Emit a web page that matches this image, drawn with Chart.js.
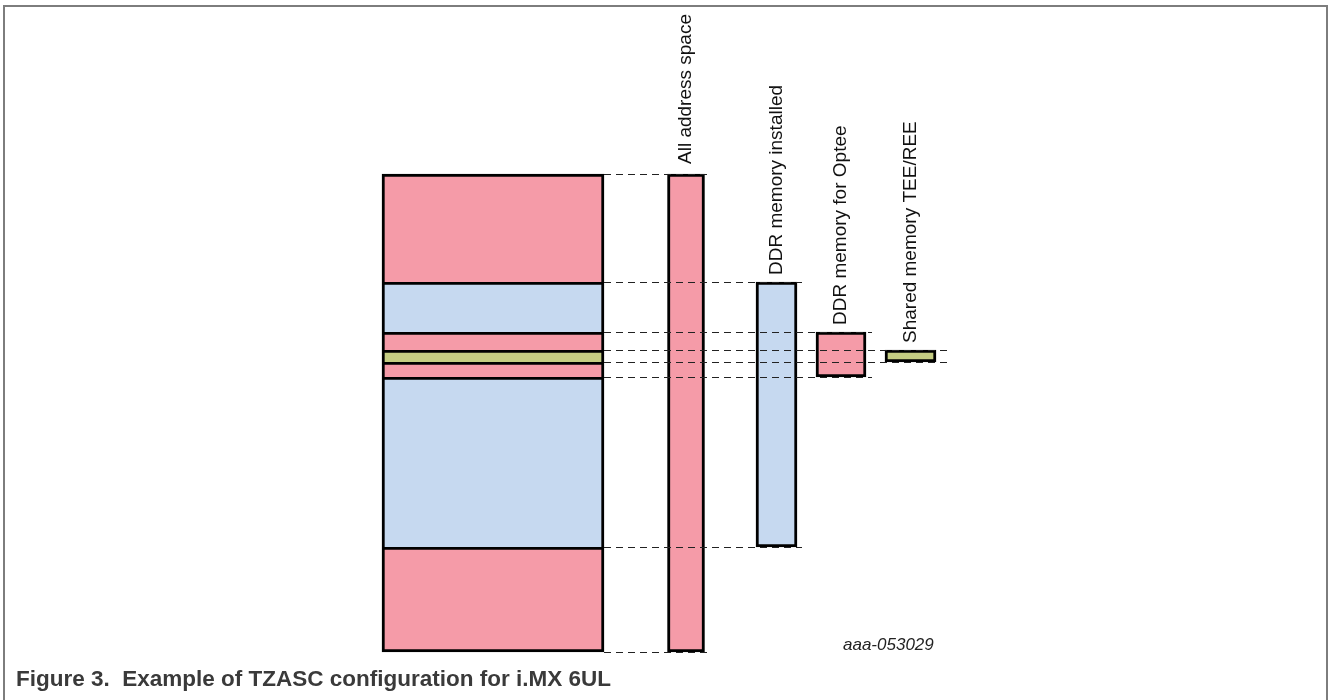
<!DOCTYPE html>
<html>
<head>
<meta charset="utf-8">
<title>TZASC configuration for i.MX 6UL</title>
<script src="https://cdn.jsdelivr.net/npm/chart.js@4.4.1/dist/chart.umd.min.js"></script>
<style>
    html, body { margin: 0; padding: 0; background: #fff; }
    #frame {
        position: absolute; left: 3px; top: 5px; width: 1325px; height: 720px;
        border: 2px solid #7d7d7d; border-bottom: none; box-sizing: border-box;
    }
    #chart { position: absolute; left: 0; top: 0; }
    #docid {
        position: absolute; left: 843px; top: 637px;
        font: italic 17px "Liberation Sans", Arial, sans-serif; line-height: 16px; color: #222;
    }
    #caption {
        position: absolute; left: 16px; top: 668px; white-space: pre;
        font: bold 22.5px "Liberation Sans", Arial, sans-serif; line-height: 22px; color: #3a3a3a;
    }
</style>
</head>
<body>
<div id="frame"></div>
<canvas id="chart" width="1328" height="700"></canvas>
<div id="docid">aaa-053029</div>
<div id="caption">Figure 3.  Example of TZASC configuration for i.MX 6UL</div>

<script>
// ==========================================
// TZASC region map (not to scale)
// ==========================================

// column names, left to right
const columns = ['Address map', 'All address space', 'DDR memory installed', 'DDR memory for Optee', 'Shared memory TEE/REE'];

// region boundaries of the left column, bottom to top (address units)
const mapBounds = [0, 105, 275, 290, 302, 320, 370, 478];
const mapKinds = ['addr', 'ddr', 'optee', 'shared', 'optee', 'ddr', 'addr'];

// [start, end] of each column on the right
const colRanges = [[0, 478], [105, 370], [275, 320], [290, 302]];
const colKinds = ['addr', 'ddr', 'optee', 'shared'];

// layout only: column centres on the x axis, widths, dash overhang, label gap
const colX = [493, 686, 776.5, 841, 910.5];
const colW = [222, 37, 41, 50, 51];
const dashTail = [0, 4, 5, 6, 11];
const labelGap = [0, 10, 7, 7, 7];

const fills = {
    addr: '#f59ba8',
    ddr: '#c6d9f0',
    optee: '#f59ba8',
    shared: '#c5cd82'
};

const datasets = [{
    label: columns[0],
    data: mapKinds.map((k, i) => ({ x: colX[0], y: [mapBounds[i], mapBounds[i + 1]] })),
    backgroundColor: mapKinds.map(k => fills[k]),
    barThickness: colW[0],
    // each region draws its top edge, the lowest one closes the column
    borderSkipped: ctx => ctx.dataIndex === 0 ? false : 'bottom'
}];

colRanges.forEach((r, i) => {
    datasets.push({
        label: columns[i + 1],
        data: [{ x: colX[i + 1], y: r }],
        backgroundColor: fills[colKinds[i]],
        barThickness: colW[i + 1],
        borderSkipped: false
    });
});

datasets.forEach(ds => {
    ds.stack = 'map';
    ds.borderColor = '#000';
    ds.borderWidth = 3;
    ds.clip = false;
});

// dashed guides and rotated column titles
const decor = {
    id: 'decor',
    afterDatasetsDraw(chart) {
        const ctx = chart.ctx;
        const y = chart.scales.y;
        const left = chart.getDatasetMeta(0).data[0];
        const xStart = left.x + left.width / 2;

        ctx.save();
        ctx.strokeStyle = '#222';
        ctx.lineWidth = 1.2;
        ctx.setLineDash([7, 5]);
        colRanges.forEach((r, i) => {
            const el = chart.getDatasetMeta(i + 1).data[0];
            const xEnd = el.x + el.width / 2 + dashTail[i + 1];
            r.forEach(v => {
                const py = Math.round(y.getPixelForValue(v)) + 0.5;
                ctx.beginPath();
                ctx.moveTo(xStart, py);
                ctx.lineTo(xEnd, py);
                ctx.stroke();
            });
        });
        ctx.setLineDash([]);

        ctx.fillStyle = '#111';
        ctx.font = '19px "Liberation Sans", Arial, sans-serif';
        ctx.textAlign = 'left';
        ctx.textBaseline = 'middle';
        colRanges.forEach((r, i) => {
            const top = y.getPixelForValue(r[1]);
            const el = chart.getDatasetMeta(i + 1).data[0];
            ctx.save();
            ctx.translate(el.x, top - labelGap[i + 1]);
            ctx.rotate(-Math.PI / 2);
            ctx.fillText(columns[i + 1], 0, 0);
            ctx.restore();
        });
        ctx.restore();
    }
};

new Chart(document.getElementById('chart'), {
    type: 'bar',
    data: { datasets: datasets },
    options: {
        responsive: false,
        animation: false,
        layout: { padding: { top: 174, bottom: 48, left: 0, right: 0 } },
        plugins: {
            legend: { display: false },
            tooltip: { enabled: false }
        },
        scales: {
            x: { type: 'linear', min: 0, max: 1328, offset: false, display: false },
            y: { min: 0, max: 478, stacked: false, display: false }
        }
    },
    plugins: [decor]
});
</script>
</body>
</html>
